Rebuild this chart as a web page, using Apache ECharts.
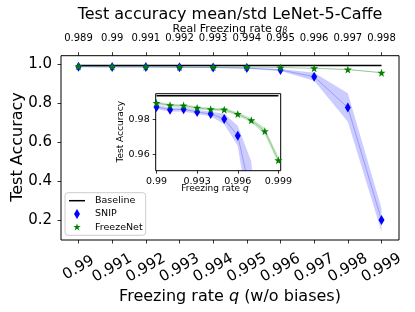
<!DOCTYPE html>
<html><head><meta charset="utf-8">
<script src="https://cdn.jsdelivr.net/npm/echarts@6/dist/echarts.min.js"></script>
<style>html,body{margin:0;padding:0;background:#fff}#c{width:415px;height:312px}</style>
</head><body><div id="c"></div>
<script>
// ---- data ----
const qValues = [0.990, 0.991, 0.992, 0.993, 0.994, 0.995, 0.996, 0.997, 0.998, 0.999];
const bottomTickLabels = ['0.99', '0.991', '0.992', '0.993', '0.994', '0.995', '0.996', '0.997', '0.998', '0.999'];
const topTickLabels = ['0.989', '0.99', '0.991', '0.992', '0.993', '0.994', '0.995', '0.996', '0.997', '0.998'];
const yTickValues = [0.2, 0.4, 0.6, 0.8, 1.0];
const insetXTicks = [0.990, 0.993, 0.996, 0.999];
const insetXTickLabels = ['0.99', '0.993', '0.996', '0.999'];
const insetYTicks = [0.96, 0.98];
const baselineValue = 0.9935;
const snipMean = [0.9871, 0.9856, 0.9858, 0.9843, 0.9831, 0.9803, 0.9707, 0.936, 0.778, 0.2015];
const snipStd = [0.0012, 0.0012, 0.0012, 0.0012, 0.0013, 0.0030, 0.0057, 0.020, 0.073, 0.060];
const freezeMean = [0.9894, 0.9881, 0.9879, 0.9866, 0.9858, 0.9856, 0.9831, 0.9795, 0.9733, 0.9567];
const freezeStd = [0.0008, 0.0008, 0.0008, 0.0009, 0.0009, 0.0010, 0.0010, 0.0012, 0.0020, 0.0020];

const FONT = 'DejaVu Sans';
const STAR = 'path://M0,-10 L2.35,-3.24 L9.51,-3.09 L3.80,1.24 L5.88,8.09 L0,4 L-5.88,8.09 L-3.80,1.24 L-9.51,-3.09 L-2.35,-3.24 Z';
const STAR_LEGEND = 'path://M-13,-13 M13,13 M0,-10 L2.35,-3.24 L9.51,-3.09 L3.80,1.24 L5.88,8.09 L0,4 L-5.88,8.09 L-3.80,1.24 L-9.51,-3.09 L-2.35,-3.24 Z';
const DIAMOND = 'path://M0,-5 L3,0 L0,5 L-3,0 Z';

function labelFor(v, vals, labels) {
  let best = 0, bd = Infinity;
  vals.forEach((q, i) => { const d = Math.abs(q - v); if (d < bd) { bd = d; best = i; } });
  return labels[best];
}

function bandSeries(name, mean, std, color, xi, yi, z) {
  return {
    name: name, type: 'custom', xAxisIndex: xi, yAxisIndex: yi, z: z, silent: true,
    data: qValues.map((q, i) => [q, mean[i] - std[i], mean[i] + std[i]]),
    renderItem: function (params, api) {
      if (params.dataIndex !== 0) return null;
      const upper = [], lower = [];
      qValues.forEach((q, i) => {
        upper.push(api.coord([q, mean[i] + std[i]]));
        lower.push(api.coord([q, mean[i] - std[i]]));
      });
      const pts = upper.concat(lower.reverse());
      const cs = params.coordSys;
      return {
        type: 'polygon', shape: { points: pts },
        style: { fill: color, stroke: null },
        clipPath: { type: 'rect', shape: { x: cs.x, y: cs.y, width: cs.width, height: cs.height } }
      };
    }
  };
}

function seriesFor(xi, yi, zb) {
  return [
    bandSeries('SNIP band', snipMean, snipStd, 'rgba(0,0,255,0.2)', xi, yi, zb),
    bandSeries('FreezeNet band', freezeMean, freezeStd, 'rgba(0,128,0,0.2)', xi, yi, zb),
    {
      name: 'Baseline', type: 'line', xAxisIndex: xi, yAxisIndex: yi, z: zb + 1, symbol: 'none',
      itemStyle: { color: '#000' }, lineStyle: { color: '#000', width: 1.5 },
      data: [[qValues[0], baselineValue], [qValues[qValues.length - 1], baselineValue]], silent: true
    },
    {
      name: 'SNIP', type: 'line', xAxisIndex: xi, yAxisIndex: yi, z: zb + 2,
      symbol: DIAMOND, symbolSize: [6, 10], symbolKeepAspect: false,
      itemStyle: { color: '#0000ff' }, lineStyle: { color: '#0000ff', width: 1, opacity: 0.25 },
      data: qValues.map((q, i) => [q, snipMean[i]]), silent: true
    },
    {
      name: 'FreezeNet', type: 'line', xAxisIndex: xi, yAxisIndex: yi, z: zb + 2,
      symbol: STAR, symbolSize: 8,
      itemStyle: { color: '#008000' }, lineStyle: { color: '#008000', width: 1, opacity: 0.3 },
      data: qValues.map((q, i) => [q, freezeMean[i]]), silent: true
    }
  ];
}

const tickStyle = { show: true, inside: false, length: 3.5, lineStyle: { color: '#000', width: 0.8 } };

const option = {
  animation: false,
  backgroundColor: '#fff',
  textStyle: { fontFamily: FONT },
  grid: [
    { left: 61, top: 55.7, width: 338, height: 184.3, show: true, borderColor: '#000', borderWidth: 1, backgroundColor: 'transparent', containLabel: false },
    { left: 155.7, top: 93.7, width: 125, height: 77, show: true, borderColor: '#000', borderWidth: 1, backgroundColor: '#fff', containLabel: false, z: 5 }
  ],
  xAxis: [
    {
      type: 'value', gridIndex: 0, position: 'bottom', min: 0.98948, max: 0.99952,
      axisLine: { show: false }, splitLine: { show: false },
      axisTick: Object.assign({ customValues: qValues }, tickStyle),
      axisLabel: {
        customValues: qValues, formatter: v => labelFor(v, qValues, bottomTickLabels),
        rotate: 30, align: 'center', verticalAlign: 'middle', margin: 28,
        fontSize: 15, color: '#000', fontFamily: FONT, hideOverlap: false
      }
    },
    {
      type: 'value', gridIndex: 0, position: 'top', min: 0.98948, max: 0.99952,
      axisLine: { show: false }, splitLine: { show: false },
      axisTick: Object.assign({ customValues: qValues }, tickStyle),
      axisLabel: {
        customValues: qValues, formatter: v => labelFor(v, qValues, topTickLabels),
        margin: 12, fontSize: 10, color: '#000', fontFamily: FONT, hideOverlap: false
      }
    },
    {
      type: 'value', gridIndex: 1, min: 0.98994, max: 0.99917, z: 6,
      axisLine: { show: false }, splitLine: { show: false },
      axisTick: Object.assign({ customValues: insetXTicks }, tickStyle, { length: 3 }),
      axisLabel: {
        customValues: insetXTicks, formatter: v => labelFor(v, insetXTicks, insetXTickLabels),
        margin: 6, fontSize: 9.5, color: '#000', fontFamily: FONT, hideOverlap: false
      }
    }
  ],
  yAxis: [
    {
      type: 'value', gridIndex: 0, min: 0.099, max: 1.044,
      axisLine: { show: false }, splitLine: { show: false },
      axisTick: Object.assign({ customValues: yTickValues }, tickStyle),
      axisLabel: {
        customValues: yTickValues, formatter: v => v.toFixed(1),
        margin: 9, fontSize: 15, color: '#000', fontFamily: FONT
      }
    },
    {
      type: 'value', gridIndex: 1, min: 0.9507, max: 0.9947, z: 6,
      axisLine: { show: false }, splitLine: { show: false },
      axisTick: Object.assign({ customValues: insetYTicks }, tickStyle, { length: 3 }),
      axisLabel: {
        customValues: insetYTicks, formatter: v => v.toFixed(2),
        margin: 6, fontSize: 9.5, color: '#000', fontFamily: FONT
      }
    }
  ],
  legend: {
    left: 65, top: 192.7, orient: 'vertical',
    itemWidth: 16, itemHeight: 10, itemGap: 3.3,
    padding: [3, 3, 3, 4],
    backgroundColor: 'rgba(255,255,255,0.8)', borderColor: '#ccc', borderWidth: 1, borderRadius: 3,
    textStyle: { fontSize: 9.5, color: '#000', fontFamily: FONT, padding: [0, 0, 0, 5] },
    selectedMode: false,
    data: [
      { name: 'Baseline', icon: 'path://M0,0 H16 V1.5 H0 Z' },
      { name: 'SNIP', icon: DIAMOND },
      { name: 'FreezeNet', icon: STAR_LEGEND }
    ]
  },
  graphic: [
    { type: 'text', x: 230, y: 15, style: { text: 'Test accuracy mean/std LeNet-5-Caffe', fontSize: 16, fontFamily: FONT, fill: '#000', align: 'center', verticalAlign: 'middle' } },
    { type: 'text', x: 230, y: 29, style: { text: 'Real Freezing rate {i|q}{s|β}', fontSize: 11, fontFamily: FONT, fill: '#000', align: 'center', verticalAlign: 'middle',
        rich: { i: { fontStyle: 'italic', fontSize: 11, fontFamily: FONT }, s: { fontStyle: 'italic', fontSize: 8, fontFamily: FONT, verticalAlign: 'bottom', padding: [4, 0, 0, 0] } } } },
    { type: 'text', x: 230, y: 297, style: { text: 'Freezing rate {i|q} (w/o biases)', fontSize: 16, fontFamily: FONT, fill: '#000', align: 'center', verticalAlign: 'middle',
        rich: { i: { fontStyle: 'italic', fontSize: 16, fontFamily: FONT } } } },
    { type: 'text', x: 17.5, y: 147, rotation: Math.PI / 2, style: { text: 'Test Accuracy', fontSize: 16, fontFamily: FONT, fill: '#000', align: 'center', verticalAlign: 'middle' } },
    { type: 'text', x: 215, y: 188.5, z: 10, style: { text: 'Freezing rate {i|q}', fontSize: 9, fontFamily: FONT, fill: '#000', align: 'center', verticalAlign: 'middle',
        rich: { i: { fontStyle: 'italic', fontSize: 9, fontFamily: FONT } } } },
    { type: 'text', x: 121, y: 131.7, z: 10, rotation: Math.PI / 2, style: { text: 'Test Accuracy', fontSize: 9, fontFamily: FONT, fill: '#000', align: 'center', verticalAlign: 'middle' } }
  ],
  series: seriesFor(0, 0, 1).concat(seriesFor(2, 1, 7))
};

const chart = echarts.init(document.getElementById('c'), null, { renderer: 'canvas' });
chart.setOption(option);
</script>
</body></html>
